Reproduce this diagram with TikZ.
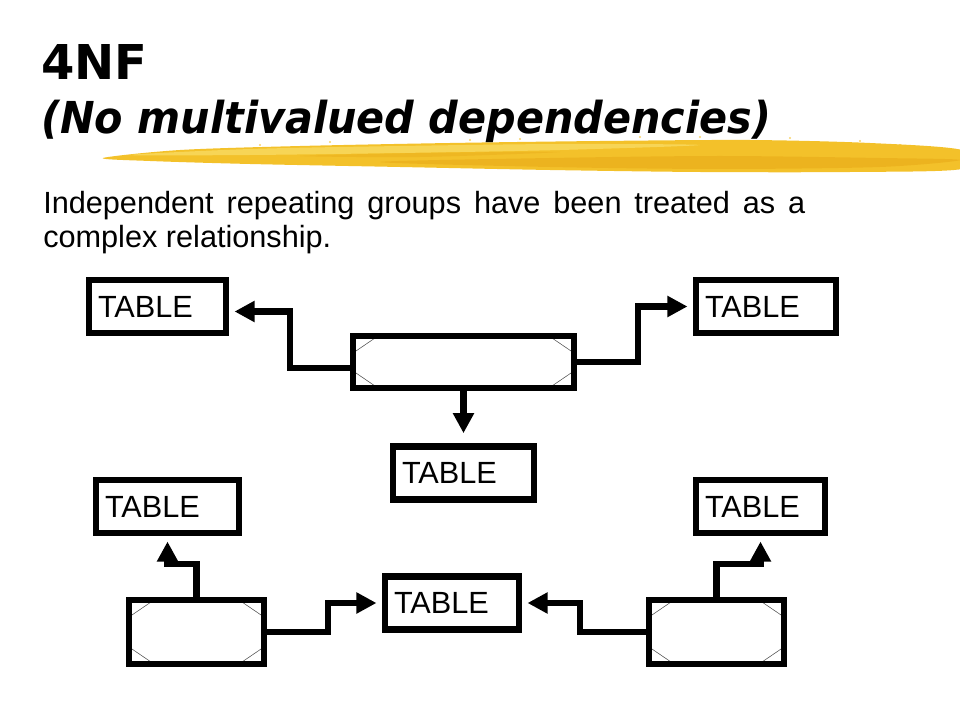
\documentclass[tikz,border=0pt]{standalone}
\usepackage{fontspec}
\setmainfont{Liberation Sans}
\newfontfamily\headfont{DejaVu Sans}
\newfontfamily\subheadfont[FakeStretch=0.94]{DejaVu Sans}
\usetikzlibrary{positioning, arrows.meta, calc}
\definecolor{brushyellow}{HTML}{F3C12A}
\definecolor{brushlight}{HTML}{F9DA62}
\definecolor{brushdark}{HTML}{E8A816}
\tikzset{
table/.style={ % entity box, text kept to the left
draw, line width=4.8pt, fill=white,
minimum height=39.75pt, inner xsep=6.75pt, inner ysep=0pt,
text width=#1, align=left,
font=\fontsize{23pt}{24pt}\selectfont},
corner/.style={thin, black!70}, % the cut corners of a relationship box
relation/.style 2 args={ % relationship box with cut corners
draw, line width=4.8pt, fill=white,
minimum width=#1, minimum height=#2, inner sep=0pt,
path picture={
\draw[corner] ([yshift=-12.75pt]path picture bounding box.north west) -- ([xshift=18.75pt]path picture bounding box.north west);
\draw[corner] ([yshift=-12.75pt]path picture bounding box.north east) -- ([xshift=-18.75pt]path picture bounding box.north east);
\draw[corner] ([yshift=12.75pt]path picture bounding box.south west) -- ([xshift=18.75pt]path picture bounding box.south west);
\draw[corner] ([yshift=12.75pt]path picture bounding box.south east) -- ([xshift=-18.75pt]path picture bounding box.south east);
}},
link/.style={ % connectors with bold filled heads
line width=4.8pt, -{Triangle[length=15pt,width=15pt]}, shorten >=4pt}}

\begin{document}
\begin{tikzpicture}[x=0.75pt, y=-0.75pt]
    \useasboundingbox (0,0) rectangle (960,720);

    % brush stroke under the title
    \fill[brushyellow] plot[smooth cycle, tension=0.5] coordinates {(103,158) (180,150) (300,146) (450,143) (600,141) (750,140) (870,143) (962,150) (962,169) (850,172) (700,172) (550,170) (400,167) (250,164) (150,161)};
    \fill[brushlight, opacity=0.8] plot[smooth cycle, tension=0.5] coordinates {(130,155) (250,149) (400,146) (560,144) (700,145) (560,150) (400,153) (250,155)};
    \fill[brushdark, opacity=0.55] plot[smooth cycle, tension=0.5] coordinates {(380,162) (550,158) (720,156) (880,158) (960,160) (880,167) (720,169) (550,167)};
    \fill[brushdark, opacity=0.4] plot[smooth cycle, tension=0.5] coordinates {(300,156) (420,153) (560,152) (420,157)};
    \foreach \px/\py in {260/145, 330/142, 470/140, 520/139, 640/137, 700/137, 790/138, 860/141, 900/145, 930/147}
        \fill[brushyellow, opacity=0.7] (\px,\py) circle (1.2);

    \node[anchor=base west, inner sep=0pt, font=\headfont\bfseries\fontsize{36pt}{40pt}\selectfont] (title) at (41,80) {4NF};
    \node[anchor=base west, inner sep=0pt, font=\subheadfont\bfseries\itshape\fontsize{33pt}{36pt}\selectfont] (subtitle) at (41,134) {(No multivalued dependencies)};
    \node[anchor=base west, inner sep=0pt, font=\fontsize{23pt}{27pt}\selectfont] (line1) at (43,214) {\makebox[571.5pt][s]{Independent repeating groups have been treated as a}};
    \node[anchor=base west, inner sep=0pt, font=\fontsize{23pt}{27pt}\selectfont] (line2) at (43,248) {complex relationship.};

    \node[table=89.25pt] (tl) at (157.5,306.5) {TABLE};
    \node[table=91.5pt] (tr) at (766,306.5) {TABLE};
    \node[relation={165.75pt}{39pt}] (rel) at (463.5,362) {};
    \node[table=92.25pt, below=39pt of rel] (mid) {TABLE};
    \node[table=93.75pt] (bl) at (167.5,506.5) {TABLE};
    \node[table=83.25pt] (br) at (760.5,506.5) {TABLE};
    \node[table=87pt] (bm) at (452,603) {TABLE};
    \node[relation={101.25pt}{48pt}] (rl) at (196.5,632) {};
    \node[relation={101.25pt}{48pt}] (rr) at (716.5,632) {};

    \draw[link] ($(rel.west)+(0,6)$) -- ++(-60,0) |- ($(tl.east)+(0,5)$);
    \draw[link] (rel.east) -- ++(61,0) |- (tr.west);
    \draw[link, shorten >=7.5pt] (rel.south) -- (mid.north);
    \draw[link] (rl.north) -- ++(0,-33) -| (bl.south);
    \draw[link] (rl.east) -- ++(61,0) |- (bm.west);
    \draw[link] (rr.north) -- ++(0,-33) -| (br.south);
    \draw[link] (rr.west) -- ++(-66,0) |- (bm.east);

\end{tikzpicture}
\end{document}
